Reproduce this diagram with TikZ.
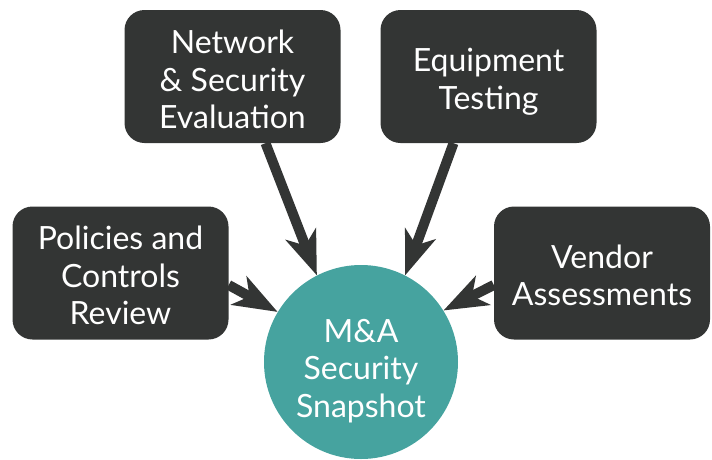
\documentclass[tikz,border=0pt]{standalone}
\usepackage{fontspec}
\setmainfont{Lato}
\usetikzlibrary{arrows.meta}
\definecolor{boxgray}{RGB}{51,53,52}
\definecolor{snapteal}{RGB}{70,163,159}
\tikzset{
  task/.style = {fill = boxgray, rounded corners = 20pt, minimum width = 216pt,
    minimum height = 133pt, inner sep = 0pt},
  words/.style = {text = white, align = center, inner sep = 0pt,
    font = \fontsize{32}{37.5}\selectfont},
  feed/.style = {draw = boxgray, line width = 10pt,
    -{Stealth[length = 44pt, width = 32pt, inset = 12pt]}}
}
\begin{document}
\begin{tikzpicture}[x = 1pt, y = -1pt]
  \useasboundingbox (0, 0) rectangle (712, 459);

  \node[task, label = {[words, yshift = -3pt]center:{Network\\\& Security\\Evaluation}}]
  (network) at (232.5, 76.5) {};
  \node[task, label = {[words, yshift = -5pt]center:{Equipment\\Testing}}]
  (equip) at (488.5, 76.5) {};
  \node[task, label = {[words, yshift = -2.5pt]center:{Policies and\\Controls\\Review}}]
  (policies) at (120.5, 273) {};
  \node[task, label = {[words, yshift = -2.5pt]center:{Vendor\\Assessments}}]
  (vendor) at (602, 273) {};

  \node[circle, fill = snapteal, minimum size = 194pt, inner sep = 0pt,
  label = {[words, yshift = -9pt]center:{M\&A\\Security\\Snapshot}}]
  (snap) at (361, 362) {};

  \draw[feed] ([xshift = 33pt]network.south) -- (snap.117);
  \draw[feed] ([xshift = -35pt]equip.south) -- (snap.63);
  \draw[feed] ([yshift = -12pt]policies.east) -- (snap.149);
  \draw[feed] ([yshift = -12pt]vendor.west) -- (snap.32);
\end{tikzpicture}
\end{document}
